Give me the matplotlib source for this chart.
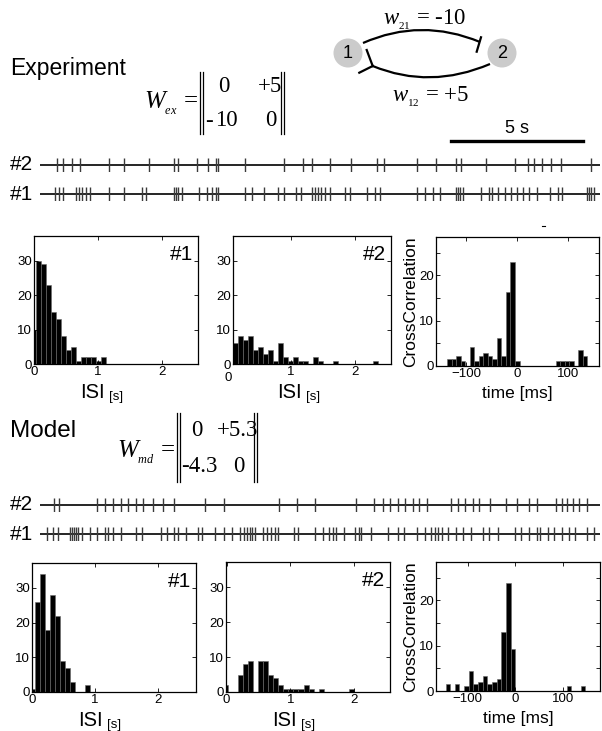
import numpy as np
import matplotlib
matplotlib.use('Agg')
import matplotlib.pyplot as plt
from matplotlib.path import Path
from matplotlib.patches import PathPatch, Circle

plt.rcParams['font.family'] = ['Liberation Sans', 'DejaVu Sans']
plt.rcParams['mathtext.fontset'] = 'custom'
plt.rcParams['mathtext.rm'] = 'Liberation Serif'
plt.rcParams['mathtext.it'] = 'Liberation Serif:italic'

# ---------------- data ----------------
# spike times [s]
exp_spikes_2 = [0.64, 0.86, 1.23, 1.52, 2.62, 3.20, 4.12, 5.07, 5.22, 5.95, 6.39, 6.68, 6.75,
                7.78, 9.24, 9.97, 10.34, 10.99, 11.80, 12.78, 13.04, 14.31, 15.01, 15.77, 15.96,
                16.94, 18.04, 18.52, 18.74, 19.04, 19.40, 19.77, 20.89]
exp_spikes_1 = [0.57, 0.72, 0.86, 1.37, 1.49, 1.61, 1.74, 1.89, 2.62, 3.20, 3.86, 4.01, 5.07, 5.15,
                5.22, 5.37, 6.02, 6.32, 6.54, 6.68, 6.75, 7.78, 8.03, 8.51, 9.05, 9.24, 9.71, 9.90,
                10.34, 10.44, 10.56, 10.66, 10.80, 10.99, 11.58, 11.75, 12.41, 12.70, 12.92, 14.31,
                14.61, 14.90, 15.19, 15.77, 15.85, 15.95, 16.07, 16.73, 17.02, 17.16, 17.38, 17.65,
                17.89, 18.11, 18.33, 18.55, 18.85, 19.36, 19.65, 19.80, 20.75, 20.82, 20.89, 21.04]
mdl_spikes_2 = [0.54, 0.72, 2.15, 2.47, 2.76, 3.06, 3.35, 3.64, 3.90, 4.30, 4.66, 5.10, 6.27, 7.00,
                9.08, 9.75, 10.44, 12.00, 12.66, 13.03, 13.29, 13.58, 13.84, 14.14, 14.39, 14.68,
                15.60, 15.85, 16.14, 16.43, 16.65, 17.06, 17.68, 18.11, 18.55, 18.85, 19.58, 19.80,
                20.01, 20.23, 20.45, 20.75]
mdl_spikes_1 = [0.28, 0.50, 0.69, 1.15, 1.23, 1.30, 1.37, 1.45, 1.59, 1.89, 2.18, 2.47, 2.59, 2.76,
                3.06, 3.64, 3.86, 4.59, 4.81, 5.10, 5.25, 5.54, 5.98, 6.13, 6.64, 7.00, 7.30, 7.59,
                7.73, 7.85, 7.95, 8.03, 8.17, 8.46, 8.61, 8.76, 8.90, 9.05, 9.63, 9.78, 10.44, 10.73,
                10.95, 11.10, 11.24, 11.54, 11.97, 12.09, 12.19, 12.56, 13.22, 13.58, 13.80, 14.31,
                14.61, 14.82, 14.97, 15.12, 15.26, 15.48, 15.77, 16.07, 16.36, 16.80, 17.02, 17.38,
                18.04, 18.26, 18.55, 18.85, 18.99, 19.28, 19.50, 19.80, 20.09, 20.31, 20.75, 21.04]

# ISI histograms (first bin center [s], bin width [s], counts)
isi_exp1_start, isi_exp1_bin = 0.0, 0.078
isi_exp1_counts = [10, 30, 29, 23, 15, 13, 8, 4, 5, 1, 2, 2, 2, 1, 2]
isi_exp2_start, isi_exp2_bin = 0.128, 0.0785
isi_exp2_counts = [6, 8, 7, 8, 4, 5, 3, 4, 1, 6, 2, 1, 2, 1, 1, 0, 2, 1, 0, 0, 1,
                   0, 0, 0, 0, 0, 0, 0, 1]
isi_mdl1_start, isi_mdl1_bin = 0.0, 0.08
isi_mdl1_counts = [1, 26, 34, 18, 28, 22, 9, 7, 3, 0, 0, 2]
isi_mdl2_start, isi_mdl2_bin = -0.02, 0.079
isi_mdl2_counts = [2, 0, 0, 5, 8, 9, 0, 9, 9, 5, 4, 2, 1, 1, 1, 1, 2, 1, 0, 1,
                   0, 0, 0, 0, 0, 1]

# cross-correlations (first bin center [ms], bin width [ms], values)
cc_exp_start, cc_exp_bin = -133.5, 8.9
cc_exp_vals = [1.5, 1.5, 2.3, 1.0, 0.0, 4.3, 1.0, 2.3, 2.8, 2.3, 1.5, 6.2, 2.3, 16.3, 23.0,
               1.0, 0, 0, 0, 0, 0, 0, 0, 0, 1.0, 1.0, 1.0, 1.0, 0.0, 3.6, 2.3]
cc_mdl_start, cc_mdl_bin = -142.1, 9.8
cc_mdl_vals = [1.5, 0.0, 1.5, 0.0, 1.0, 4.5, 1.5, 2.0, 3.3, 1.5, 2.0, 2.6, 13.0, 23.8, 9.2,
               0, 0, 0, 0, 0, 0, 0, 0, 0, 0, 0, 1.0, 0, 0, 1.0]

isi_xticks = [0, 1, 2]
isi_yticks = [0, 10, 20, 30]
cc_xticks = [-100, 0, 100]
cc_yticks = [0, 10, 20]
cc_minor_yticks = [5, 15, 25]

# ---------------- figure ----------------
W, H = 602, 731
fig = plt.figure(figsize=(W / 100, H / 100), dpi=100)


def px_axes(l, t, r, b):
    return fig.add_axes([l / W, 1 - b / H, (r - l) / W, (b - t) / H])


def ftext(x, y, s, **kw):
    return fig.text(x / W, 1 - y / H, s, **kw)


# overlay for diagram and annotations (pixel coordinates)
ov = fig.add_axes([0, 0, 1, 1])
ov.set_xlim(0, W)
ov.set_ylim(H, 0)
ov.axis('off')
SERIF = 'Liberation Serif'

# ---- network diagram ----
for cx, lab in [(348, '1'), (502, '2')]:
    ov.add_patch(Circle((cx, 53), 14.5, facecolor='#cbcbcb', edgecolor='none'))
    ov.text(cx, 54, lab, ha='center', va='center', fontsize=13)
up = Path([(363, 43), (421, 17.5), (480, 42)], [Path.MOVETO, Path.CURVE3, Path.CURVE3])
ov.add_patch(PathPatch(up, facecolor='none', edgecolor='black', lw=1.6))
ov.plot([476.7, 481], [51.7, 37.3], color='black', lw=1.6)
lo = Path([(490, 64), (430, 89.6), (372.7, 66)], [Path.MOVETO, Path.CURVE3, Path.CURVE3])
ov.add_patch(PathPatch(lo, facecolor='none', edgecolor='black', lw=1.6))
ov.plot([366.7, 372.7], [50, 66], color='black', lw=1.6)
ov.plot([359.3, 372.7], [72.7, 66], color='black', lw=1.6)

ov.text(383, 24, r'$w_{_{21}}$ = -10', fontsize=16.5, family=SERIF, ha='left', va='baseline')
ov.text(392, 101, r'$w_{_{12}}$ = +5', fontsize=16.5, family=SERIF, ha='left', va='baseline')

# ---- section titles and matrices ----
ov.text(10, 75, 'Experiment', fontsize=16.5, ha='left', va='baseline')
ov.text(10, 437, 'Model', fontsize=17.5, ha='left', va='baseline')


def matrix(yc, sub, x_l, x_r, y_top, y_bot, cells):
    ov.text(x_l - 2, yc + 6, r'$W_{_{%s}}$ =' % sub, fontsize=18, family=SERIF,
            ha='right', va='baseline')
    for x in (x_l, x_l + 3, x_r, x_r + 3):
        ov.plot([x, x], [y_top, y_bot], color='black', lw=0.9)
    for xx, yy, s in cells:
        ov.text(xx, yy, s, fontsize=16.5, ha='center', va='center', family=SERIF)


matrix(103, 'ex', 200, 281, 72, 134,
       [(224, 86, '0'), (270, 86, '+5'), (209, 121, '-'), (226, 121, '10'), (271, 121, '0')])
matrix(452, 'md', 177, 254, 413, 482,
       [(197, 430, '0'), (238, 430, '+5.3'), (199, 466, '-4.3'), (239, 466, '0')])


# ---- raster plots ----
def raster(yc, times, label):
    ax = px_axes(40, yc - 7, 600, yc + 7)
    ax.set_xlim(0, 21.25)
    ax.set_ylim(-1, 1)
    ax.axis('off')
    ax.axhline(0, color='black', lw=1.2)
    ax.vlines(times, -1, 1, colors='#3a3a3a', lw=1.0)
    ftext(10, yc, label, fontsize=15, ha='left', va='center')
    return ax


ax_r = raster(165, exp_spikes_2, '#2')
raster(194, exp_spikes_1, '#1')
raster(505, mdl_spikes_2, '#2')
raster(534, mdl_spikes_1, '#1')
# 5 s scale bar
ax_r.plot([15.6, 20.6], [2.2, 2.2], color='black', lw=2.4, clip_on=False,
          transform=ax_r.get_xaxis_transform())
ax_r.text(18.1, 3.1, '5 s', fontsize=13, ha='center', va='center',
          transform=ax_r.get_xaxis_transform())
ov.plot([542, 545], [226, 226], color='black', lw=0.8)


# ---- histograms ----
def style(ax):
    ax.tick_params(which='both', direction='in', length=3, width=0.6, top=True, right=True,
                   labelsize=9.5, pad=1.5)
    for s in ax.spines.values():
        s.set_linewidth(0.9)


def isi_hist(box, start, binw, counts, xlim, tag, show0=True):
    l, t, r, b = box
    ax = px_axes(l, t, r, b)
    centers = start + binw * np.arange(len(counts))
    ax.bar(centers, counts, width=binw, color='black', edgecolor='#6a6a6a', linewidth=0.4)
    ax.set_xlim(*xlim)
    ax.set_ylim(0, 37.2)
    ax.set_yticks(isi_yticks)
    style(ax)
    if show0:
        ax.set_xticks(isi_xticks)
    else:
        ax.set_xticks(isi_xticks[1:])
        ax.annotate('0', xy=(0, 0), xycoords=('data', 'axes fraction'), xytext=(1, -6),
                    textcoords='offset points', ha='center', va='top', fontsize=9.5,
                    annotation_clip=False)
    ax.text(0.97, 0.93, tag, transform=ax.transAxes, ha='right', va='top', fontsize=15)
    w = r - l
    yl = b + 34
    ftext(l + 0.28 * w, yl, 'ISI', fontsize=14.5, ha='left', va='baseline')
    ftext(l + 0.46 * w, yl + 2, '[s]', fontsize=9.5, ha='left', va='baseline')
    return ax


def cc_hist(box, start, binw, vals, xlim):
    l, t, r, b = box
    ax = px_axes(l, t, r, b)
    centers = start + binw * np.arange(len(vals))
    ax.bar(centers, vals, width=binw, color='black', edgecolor='#6a6a6a', linewidth=0.4)
    ax.set_xlim(*xlim)
    ax.set_ylim(0, 28.5)
    ax.set_xticks(cc_xticks)
    ax.set_yticks(cc_yticks)
    ax.set_yticks(cc_minor_yticks, minor=True)
    style(ax)
    ftext(l - 25, (t + b) / 2, 'CrossCorrelation', fontsize=12.5, rotation=90,
          ha='center', va='center')
    ftext((l + r) / 2, b + 32, 'time [ms]', fontsize=12.5, ha='center', va='baseline')
    return ax


isi_hist((34, 236, 198, 364), isi_exp1_start, isi_exp1_bin, isi_exp1_counts, (0, 2.56), '#1')
isi_hist((233, 236, 391, 364), isi_exp2_start, isi_exp2_bin, isi_exp2_counts, (0.09, 2.57), '#2',
         show0=False)
cc_hist((436, 237, 599, 366), cc_exp_start, cc_exp_bin, cc_exp_vals, (-160, 161))

isi_hist((32, 563, 196, 692), isi_mdl1_start, isi_mdl1_bin, isi_mdl1_counts, (0, 2.6), '#1')
isi_hist((226, 562, 390, 692), isi_mdl2_start, isi_mdl2_bin, isi_mdl2_counts, (-0.01, 2.56), '#2')
cc_hist((436, 562, 600, 691), cc_mdl_start, cc_mdl_bin, cc_mdl_vals, (-167, 178))

fig.savefig('out.png', dpi=100)
